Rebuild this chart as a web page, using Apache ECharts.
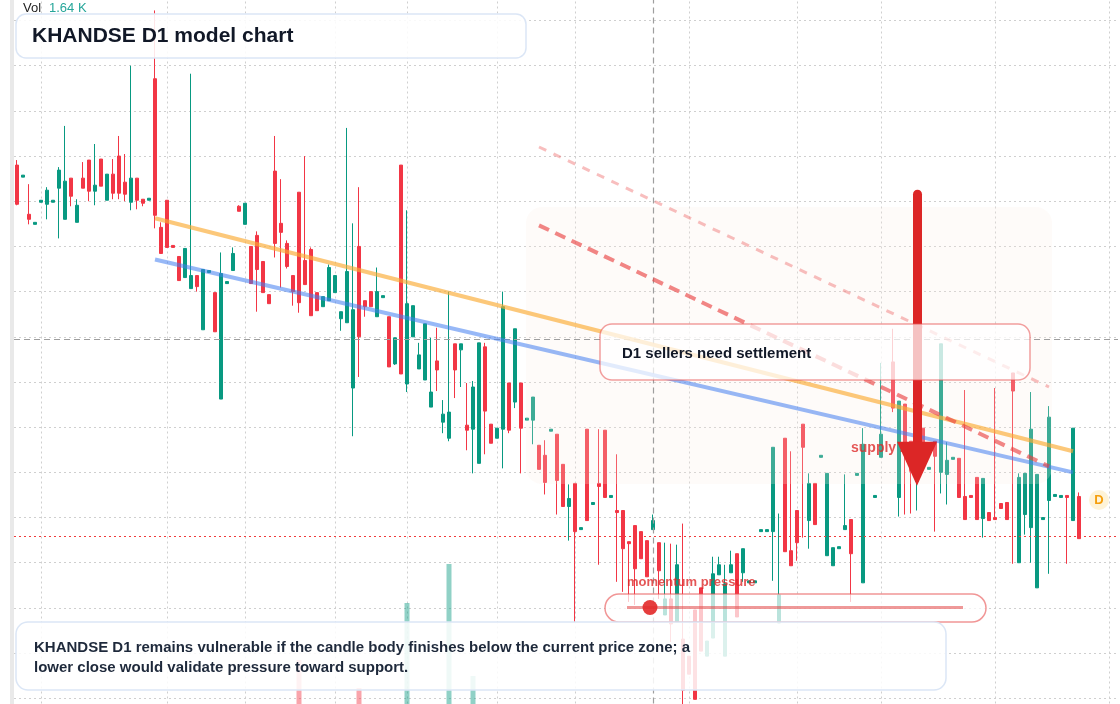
<!DOCTYPE html>
<html>
<head>
<meta charset="utf-8">
<title>KHANDSE D1 model chart</title>
<script src="https://cdn.jsdelivr.net/npm/echarts@6/dist/echarts.min.js"></script>
<style>
  html, body { margin: 0; padding: 0; background: #fff; }
  #chart { width: 1120px; height: 704px; }
</style>
</head>
<body>
<div id="chart"></div>
<script>
// ---- data ----
const cats = Array.from({ length: 184 }, (_, i) => 'B' + (i + 1));

// [open, close, low, high]
const ohlc = [
  [84.6,80.7,80.6,85.1],[83.4,83.6,83.4,83.6],[79.7,79.2,78.7,82.7],[78.7,78.9,78.7,78.9],[80.9,81.1,80.9,81.1],
  [80.7,82.1,79.2,82.4],[80.9,81.1,80.9,81.1],[82.3,84.1,77.3,84.4],[79.2,83.0,79.2,88.5],[83.3,81.5,80.5,83.3],
  [78.9,80.6,78.9,81.2],[83.3,82.3,82.3,84.9],[85.1,82.0,81.0,85.1],[82.0,82.6,80.6,86.7],[85.2,82.5,82.5,85.2],
  [81.1,83.7,81.1,83.7],[83.7,81.8,81.2,85.2],[85.5,81.8,81.2,87.5],[82.9,81.7,81.0,85.7],[80.9,83.3,80.1,94.5],
  [83.3,81.1,80.2,83.3],[81.2,80.8,80.5,81.2],[81.1,81.3,81.1,81.3],[93.2,79.6,78.3,100.0],[78.4,75.8,75.8,78.9],
  [81.1,76.4,76.4,81.1],[76.6,76.4,76.4,76.6],[75.5,73.1,73.1,75.5],[73.4,76.3,73.4,76.3],[72.3,73.6,72.3,93.7],
  [73.6,72.5,72.0,73.6],[68.2,74.2,68.2,74.2],[73.9,74.1,73.9,74.1],[71.9,68.0,68.0,71.9],[61.3,73.8,61.3,75.9],
  [72.8,73.0,72.8,73.0],[74.1,75.8,74.1,76.4],[80.5,80.0,80.0,80.6],[78.7,80.8,78.7,80.8],[76.5,72.8,72.8,76.5],
  [77.6,74.2,70.0,78.0],[75.0,71.9,71.9,75.0],[71.7,70.8,70.8,71.7],[84.0,76.8,75.4,87.5],[78.8,77.9,72.4,83.2],
  [76.8,74.5,74.3,77.1],[73.6,72.0,70.6,73.6],[81.9,70.9,69.9,81.9],[75.1,72.7,72.7,85.5],[76.2,69.6,69.6,76.4],
  [71.9,70.1,70.1,71.9],[70.5,71.5,70.5,71.5],[71.1,74.4,71.1,74.7],[71.9,73.6,71.9,73.6],[69.3,70.0,68.1,70.0],
  [68.9,74.0,68.9,88.3],[62.4,70.2,57.6,78.8],[76.5,67.5,63.5,82.4],[71.1,70.5,69.5,71.1],[72.0,70.5,70.5,72.0],
  [69.5,72.0,69.5,74.4],[71.4,71.6,71.4,71.6],[69.5,64.5,64.5,69.5],[64.8,67.4,64.7,67.4],[84.6,63.8,63.8,84.6],
  [62.8,70.8,62.0,80.1],[67.5,70.6,67.5,70.6],[64.3,65.7,64.3,66.9],[63.2,68.8,63.2,68.8],[60.5,62.0,60.5,67.4],
  [65.1,64.2,62.1,68.4],[59.0,59.8,57.9,61.2],[57.4,60.0,57.1,72.0],[66.8,64.2,61.4,66.8],[66.2,66.8,62.5,66.8],
  [58.7,58.2,56.2,62.9],[58.3,62.5,53.9,63.1],[54.9,66.9,54.9,66.9],[66.5,60.1,55.8,66.9],[58.8,56.9,56.9,58.8],
  [57.4,58.4,57.4,58.4],[58.3,70.5,54.4,72.0],[62.9,58.2,57.9,62.9],[61.0,68.3,60.4,68.3],[62.9,58.4,53.9,62.9],
  [59.2,59.4,59.2,59.4],[59.2,61.5,56.8,61.5],[56.7,54.3,54.3,56.7],[55.7,53.0,51.8,57.2],[58.1,58.3,58.1,58.3],
  [57.8,53.2,49.8,57.8],[54.8,50.6,50.6,54.8],[50.6,51.4,47.2,52.8],[52.9,48.1,39.1,52.9],[48.3,48.5,48.3,48.5],
  [58.3,49.2,49.2,58.3],[50.8,51.0,50.8,51.0],[52.9,52.6,44.8,58.3],[58.2,51.5,51.5,58.2],[51.5,51.7,51.5,51.7],
  [50.2,50.0,43.1,55.8],[50.2,46.4,42.1,50.2],[47.1,46.9,41.1,47.1],[48.7,44.4,40.8,48.7],[48.1,45.4,45.4,48.1],
  [47.2,43.6,43.6,47.2],[48.3,49.2,48.3,49.8],[47.0,44.2,41.4,47.0],[39.8,41.4,39.8,47.0],[41.4,38.9,37.1,46.9],
  [39.1,44.8,39.1,46.8],[37.4,32.3,30.7,48.9],[35.7,33.9,33.9,35.7],[40.3,31.4,31.4,40.3],[42.5,36.2,36.2,42.5],
  [35.7,37.2,35.7,37.2],[37.5,43.9,37.5,45.6],[43.8,44.8,43.8,45.6],[35.7,42.9,35.7,44.8],[44.0,44.8,44.0,46.2],
  [45.9,39.6,39.6,45.9],[44.0,46.4,43.1,46.4],[43.0,43.2,43.0,43.2],[43.0,43.2,43.0,43.2],[48.1,48.3,48.1,48.3],
  [48.1,48.3,48.1,48.3],[48.1,56.5,43.2,56.5],[39.0,41.8,39.0,49.9],[57.4,46.1,46.1,57.4],[46.2,44.7,44.7,56.1],
  [50.2,47.0,45.2,50.2],[58.8,56.5,47.5,58.8],[49.2,52.9,46.4,53.9],[52.9,48.8,48.8,52.9],[55.5,55.7,55.5,55.7],
  [45.7,53.9,45.7,53.9],[44.7,46.5,44.7,46.5],[46.4,46.6,46.4,46.6],[48.3,48.7,48.3,53.8],[49.3,45.9,41.1,49.3],
  [53.7,53.9,53.7,53.9],[43.0,56.8,43.0,58.4],['-','-','-','-'],[51.5,51.7,51.5,51.7],[55.5,57.8,55.5,64.9],
  ['-','-','-','-'],[65.0,60.4,60.0,68.3],[51.5,61.1,49.6,61.1],[60.8,56.1,49.8,60.8],[57.1,54.1,49.9,57.1],
  [53.1,56.1,50.2,56.1],[58.4,55.8,55.8,58.4],[54.3,54.5,54.3,54.5],[57.1,55.6,48.1,57.1],[54.0,66.8,51.9,66.8],
  [53.8,55.2,50.8,57.0],[55.3,55.5,55.3,55.5],[55.4,51.5,51.5,55.4],[51.6,49.3,49.3,62.2],[51.7,51.5,51.5,51.7],
  [53.5,49.3,49.3,53.5],[49.4,53.4,47.5,53.4],[50.0,49.2,49.2,50.0],[49.5,49.3,49.3,62.4],[50.9,50.4,50.4,50.9],
  [51.0,49.3,49.3,51.0],[63.9,62.1,44.9,63.9],[45.0,53.5,45.0,53.9],[49.8,53.9,47.8,53.9],[48.5,58.3,45.0,62.0],
  [42.5,53.8,42.5,53.8],[49.3,49.5,49.3,49.5],[51.2,59.5,43.9,60.6],[51.6,51.8,51.6,51.8],[51.5,51.7,51.5,51.7],
  [51.7,51.5,44.9,51.7],[49.2,58.4,49.2,58.4],[51.6,47.4,47.4,52.0]
];

const vols = [
  320,180,410,150,260,380,140,450,520,290, 240,330,470,210,390,280,350,430,260,560,
  300,190,170,580,420,360,150,310,270,490, 230,440,160,380,530,180,250,200,340,370,
  410,300,220,540,390,280,260,1100,430,460, 250,210,330,240,190,500,560,820,220,260,
  310,170,400,280,590,1670,300,230,420,350, 260,240,2060,370,200,290,940,480,450,300,
  220,520,340,410,380,160,270,310,360,150, 400,330,250,510,140,470,180,380,420,160,
  300,390,210,440,280,350,260,330,240,370, 410,520,230,560,450,200,380,190,430,170,
  460,290,130,120,150,140,500,420,540,260, 310,350,380,330,120,470,260,130,210,390,
  150,520,'-',140,340,'-',410,480,360,300, 290,320,150,340,550,270,160,330,370,140,
  350,380,200,310,180,260,420,500,330,540, 580,150,490,160,170,300,470,360
];

// vertical grid positions (bar index)
const vGridIdx = [4, 25, 38, 53, 65, 80, 93, 112, 130, 144, 163, 182];

// crosshair and reference level
const crossIdx = 106;
const crossPrice = 67.3;
const lastLevel = 47.6;

// trend lines [barIndex, price]
const orangeTrend = [[23, 79.3], [176, 56.1]];
const blueTrend = [[23, 75.2], [176, 54.0]];
const sellDash = [[87, 78.6], [172, 54.6]];
const sellDashLight = [[87, 86.4], [172, 62.5]];

// arrow: bar index, start price, head price
const arrowIdx = 150;
const arrowTop = 81.7;
const arrowHead = 54.85;

const UP = '#089981';
const DOWN = '#f23645';
const FONT = '"Liberation Sans", Arial, sans-serif';

const chart = echarts.init(document.getElementById('chart'));

const volData = vols.map((v, i) => {
  const k = ohlc[i];
  return {
    value: v,
    itemStyle: { color: k[1] >= k[0] ? UP : DOWN }
  };
});

function seg(pair, style) {
  return [{ coord: pair[0], lineStyle: style }, { coord: pair[1] }];
}

chart.setOption({
  animation: false,
  backgroundColor: '#ffffff',
  grid: [
    { left: 14, width: 1104, top: -24.7, height: 768.2, outerBoundsMode: 'none' },
    { left: 14, width: 1104, top: 530, height: 240, outerBoundsMode: 'none' }
  ],
  xAxis: [
    {
      type: 'category', data: cats, gridIndex: 0, boundaryGap: true,
      axisLine: { show: false }, axisTick: { show: false }, axisLabel: { show: false },
      splitLine: { show: false }
    },
    {
      type: 'category', data: cats, gridIndex: 1, boundaryGap: true,
      axisLine: { show: false }, axisTick: { show: false }, axisLabel: { show: false },
      splitLine: { show: false }
    }
  ],
  yAxis: [
    {
      type: 'value', gridIndex: 0, min: 27, max: 103.5, interval: 4.5,
      axisLine: { show: false }, axisTick: { show: false }, axisLabel: { show: false },
      splitLine: { show: true, lineStyle: { color: '#cfcfcf', type: [2, 3], width: 1 } }
    },
    {
      type: 'value', gridIndex: 1, min: 0, max: 2400,
      axisLine: { show: false }, axisTick: { show: false }, axisLabel: { show: false },
      splitLine: { show: false }
    }
  ],
  series: [
    {
      // vertical grid lines
      type: 'line', xAxisIndex: 0, yAxisIndex: 0, data: [], silent: true,
      markLine: {
        z: 1, silent: true, symbol: 'none', label: { show: false },
        lineStyle: { color: '#cfcfcf', type: [2, 3], width: 1 },
        data: vGridIdx.map(i => ({ xAxis: i }))
      }
    },
    {
      type: 'bar', xAxisIndex: 1, yAxisIndex: 1, data: volData,
      barWidth: 5, itemStyle: { opacity: 0.45 }, silent: true, z: 1
    },
    {
      type: 'candlestick', xAxisIndex: 0, yAxisIndex: 0, data: ohlc,
      barWidth: 4, clip: false, z: 2,
      itemStyle: {
        color: UP, color0: DOWN, borderColor: UP, borderColor0: DOWN, borderWidth: 1
      },
      markLine: {
        z: 5, silent: true, symbol: 'none', label: { show: false },
        lineStyle: { color: '#9e9e9e', type: [6, 4], width: 1.2 },
        data: [
          { xAxis: crossIdx },
          { yAxis: crossPrice },
          seg(orangeTrend, { color: 'rgba(251,170,50,0.65)', width: 4, type: 'solid' }),
          seg(blueTrend, { color: 'rgba(66,125,240,0.55)', width: 4, type: 'solid' }),
          seg(sellDash, { color: 'rgba(232,60,60,0.62)', width: 4, type: [11, 7] }),
          seg(sellDashLight, { color: 'rgba(240,110,110,0.45)', width: 3, type: [8, 8] })
        ]
      }
    },
    {
      // current level, red dotted
      type: 'line', xAxisIndex: 0, yAxisIndex: 0, data: [], silent: true,
      markLine: {
        z: 5, silent: true, symbol: 'none', label: { show: false },
        lineStyle: { color: '#ef3b3b', type: [2, 3], width: 1.2, opacity: 1 },
        data: [{ yAxis: lastLevel }]
      }
    },
    {
      // bearish arrow
      type: 'line', xAxisIndex: 0, yAxisIndex: 0, data: [], silent: true,
      markLine: {
        z: 7, silent: true, symbol: 'none', label: { show: false },
        lineStyle: { color: '#dc2626', width: 9, cap: 'round', type: 'solid' },
        data: [[{ coord: [arrowIdx, arrowTop] }, { coord: [arrowIdx, arrowHead + 0.7] }]]
      },
      markPoint: {
        z: 7, silent: true, symbol: 'triangle', symbolSize: [40, 44], symbolRotate: 180,
        itemStyle: { color: '#dc2626' }, label: { show: false },
        data: [{ coord: [arrowIdx, arrowHead] }]
      }
    }
  ],
  graphic: [
    { type: 'rect', z: 1, silent: true, shape: { x: 10, y: 0, width: 4, height: 704 }, style: { fill: '#e9e9e9' } },
    { type: 'rect', z: 3, silent: true, shape: { x: 526, y: 207, width: 526, height: 277, r: 16 },
      style: { fill: 'rgba(252,238,226,0.22)' } },
    { type: 'text', z: 6, silent: true,
      style: { x: 851, y: 448, text: 'supply zone', font: 'bold 14px ' + FONT, fill: 'rgba(220,38,38,0.78)',
               textVerticalAlign: 'middle', verticalAlign: 'middle' } },
    // annotation box
    { type: 'rect', z: 10, silent: true, shape: { x: 600, y: 324, width: 430, height: 56, r: 12 },
      style: { fill: 'rgba(255,255,255,0.72)', stroke: 'rgba(232,80,80,0.55)', lineWidth: 1.5 } },
    { type: 'text', z: 11, silent: true,
      style: { x: 622, y: 354, text: 'D1 sellers need settlement', font: 'bold 15px ' + FONT, fill: '#111827',
               textVerticalAlign: 'middle', verticalAlign: 'middle' } },
    // momentum pill
    { type: 'text', z: 11, silent: true,
      style: { x: 627, y: 582, text: 'momentum pressure', font: 'bold 13px ' + FONT, fill: 'rgba(220,38,38,0.78)',
               textVerticalAlign: 'middle', verticalAlign: 'middle' } },
    { type: 'rect', z: 10, silent: true, shape: { x: 605, y: 594, width: 381, height: 28, r: 14 },
      style: { fill: 'rgba(255,255,255,0.72)', stroke: 'rgba(232,80,80,0.6)', lineWidth: 1.5 } },
    { type: 'line', z: 11, silent: true, shape: { x1: 627, y1: 607.5, x2: 963, y2: 607.5 },
      style: { stroke: 'rgba(226,70,70,0.55)', lineWidth: 3 } },
    { type: 'circle', z: 12, silent: true, shape: { cx: 650, cy: 607.5, r: 7.5 },
      style: { fill: 'rgba(226,40,40,0.9)' } },
    // bottom note
    { type: 'rect', z: 10, silent: true, shape: { x: 16, y: 622, width: 930, height: 68, r: 12 },
      style: { fill: 'rgba(255,255,255,0.86)', stroke: '#dbe6f6', lineWidth: 1.5 } },
    { type: 'text', z: 11, silent: true,
      style: { x: 34, y: 648, text: 'KHANDSE D1 remains vulnerable if the candle body finishes below the current price zone; a',
               font: 'bold 15px ' + FONT, fill: '#1e293b', textVerticalAlign: 'middle', verticalAlign: 'middle' } },
    { type: 'text', z: 11, silent: true,
      style: { x: 34, y: 668, text: 'lower close would validate pressure toward support.',
               font: 'bold 15px ' + FONT, fill: '#1e293b', textVerticalAlign: 'middle', verticalAlign: 'middle' } },
    // title
    { type: 'rect', z: 10, silent: true, shape: { x: 16, y: 14, width: 510, height: 44, r: 10 },
      style: { fill: 'rgba(255,255,255,0.88)', stroke: '#dbe6f6', lineWidth: 1.5 } },
    { type: 'text', z: 11, silent: true,
      style: { x: 32, y: 36, text: 'KHANDSE D1 model chart', font: 'bold 21px ' + FONT, fill: '#111827',
               textVerticalAlign: 'middle', verticalAlign: 'middle' } },
    { type: 'text', z: 11, silent: true,
      style: { x: 23, y: 8, text: 'Vol', font: '13px ' + FONT, fill: '#222222',
               textVerticalAlign: 'middle', verticalAlign: 'middle' } },
    { type: 'text', z: 11, silent: true,
      style: { x: 49, y: 8, text: '1.64 K', font: '13px ' + FONT, fill: '#26a69a',
               textVerticalAlign: 'middle', verticalAlign: 'middle' } },
    // last bar tag
    { type: 'circle', z: 11, silent: true, shape: { cx: 1099, cy: 500, r: 10 },
      style: { fill: 'rgba(251,191,36,0.18)' } },
    { type: 'text', z: 12, silent: true,
      style: { x: 1099, y: 500, text: 'D', font: 'bold 13px ' + FONT, fill: '#f59e0b',
               textAlign: 'center', align: 'center', textVerticalAlign: 'middle', verticalAlign: 'middle' } }
  ]
});
</script>
</body>
</html>
